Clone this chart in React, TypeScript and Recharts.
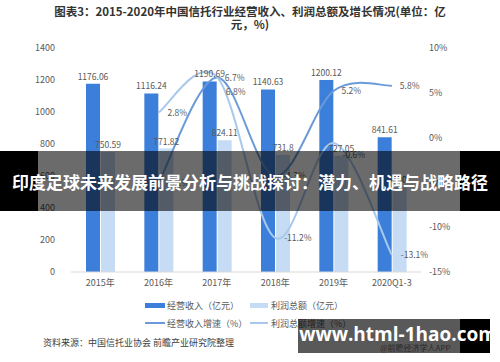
import React from 'react';
import { ComposedChart, Bar, Line, XAxis, YAxis, LabelList } from 'recharts';

const categories = ['2015年', '2016年', '2017年', '2018年', '2019年', '2020Q1-3'];
const revenue = [1176.06, 1116.24, 1190.69, 1140.63, 1200.12, 841.61];
const profit = [750.59, 771.82, 824.11, 731.8, 727.05, 530];
const revenueGrowth: (number | null)[] = [null, -5.1, 6.7, -4.3, 5.2, 5.8];
const profitGrowth: (number | null)[] = [null, 2.8, 6.8, -11.2, -0.6, -13.1];
const leftTicks = [0, 200, 400, 600, 800, 1000, 1200, 1400];
const rightTicks = [-15, -10, -5, 0, 5, 10];

const titleLine1 = '图表3：2015-2020年中国信托行业经营收入、利润总额及增长情况(单位：亿';
const titleLine2 = '元，%)';
const seriesNames = ['经营收入（亿元）', '利润总额（亿元）', '经营收入增速（%）', '利润总额增速（%）'];
const sourceText = '资料来源：中国信托业协会 前瞻产业研究院整理';
const bannerText = '印度足球未来发展前景分析与挑战探讨：潜力、机遇与战略路径';
const watermarkText = 'www.html-1hao.com';
const watermarkSub = '@前瞻经济学人APP';

const data = categories.map((c, i) => ({
  name: c,
  revenue: revenue[i],
  profit: profit[i],
  revenueGrowth: revenueGrowth[i],
  profitGrowth: profitGrowth[i],
}));

const FONT = '"Noto Sans CJK SC", "Noto Sans", sans-serif';
const C_DARK = '#3c7fdb';
const C_LIGHT = '#c6dcf4';
const C_LINE1 = '#6a9bd8';
const C_LINE2 = '#a9c9ec';
const C_TEXT = '#595959';

// label style offsets (per category index)
const profitLabelDy = [0, 0, 15, 0, 12, 0];
const revenueLabelDy = [0, 0, 0, 0, 0, 0];

function smoothCurve(context: any) {
  let pts: number[][] = [];
  return {
    areaStart() {},
    areaEnd() {},
    lineStart() {
      pts = [];
    },
    point(x: number, y: number) {
      pts.push([+x, +y]);
    },
    lineEnd() {
      const n = pts.length;
      if (!n) return;
      context.moveTo(pts[0][0], pts[0][1]);
      if (n === 1) return;
      const t = 1 / 6;
      for (let i = 0; i < n - 1; i++) {
        const p0 = pts[i - 1] || pts[i];
        const p1 = pts[i];
        const p2 = pts[i + 1];
        const p3 = pts[i + 2] || p2;
        context.bezierCurveTo(
          p1[0] + (p2[0] - p0[0]) * t,
          p1[1] + (p2[1] - p0[1]) * t,
          p2[0] - (p3[0] - p1[0]) * t,
          p2[1] - (p3[1] - p1[1]) * t,
          p2[0],
          p2[1]
        );
      }
    },
  };
}

const makeGrowthLabel = (dyArr: number[], dx: number) => (props: any) => {
  const { x, y, value, index } = props;
  if (value === null || value === undefined) return null;
  return (
    <text
      x={Number(x) + dx}
      y={Number(y) + (dyArr[index] || 0)}
      dy={3}
      fontSize={8.5}
      fill={C_TEXT}
      fontFamily={FONT}
    >
      {Number(value).toFixed(1)}%
    </text>
  );
};

const RevenueLabel = makeGrowthLabel(revenueLabelDy, 8);
const ProfitLabel = makeGrowthLabel(profitLabelDy, 9);

export default function App() {
  return (
    <div
      style={{
        position: 'absolute',
        left: 0,
        top: 0,
        width: 500,
        height: 362,
        background: '#fff',
        fontFamily: FONT,
        overflow: 'hidden',
      }}
    >
      <div
        style={{
          position: 'absolute',
          left: 0,
          top: 5,
          width: 500,
          textAlign: 'center',
          fontSize: 11.5,
          fontWeight: 700,
          color: '#333',
          lineHeight: '13px',
        }}
      >
        <div>{titleLine1}</div>
        <div>{titleLine2}</div>
      </div>

      <div style={{ position: 'absolute', left: 0, top: 0 }}>
        <ComposedChart
          width={500}
          height={362}
          data={data}
          margin={{ top: 48, right: 0, left: 0, bottom: 0 }}
          barSize={14}
          barGap={1}
        >
          <XAxis
            dataKey="name"
            height={90}
            axisLine={{ stroke: '#d9d9d9' }}
            tickLine={false}
            tick={{ fontSize: 9, fill: C_TEXT, fontFamily: FONT }}
            interval={0}
          />
          <YAxis
            yAxisId="left"
            width={71}
            domain={[0, 1400]}
            ticks={leftTicks}
            axisLine={false}
            tickLine={false}
            tickMargin={10}
            tick={{ fontSize: 9, fill: C_TEXT, fontFamily: FONT }}
          />
          <YAxis
            yAxisId="right"
            orientation="right"
            width={79}
            domain={[-15, 10]}
            ticks={rightTicks}
            axisLine={false}
            tickLine={false}
            tickMargin={2}
            tickFormatter={(v: number) => `${v}%`}
            tick={{ fontSize: 9, fill: C_TEXT, fontFamily: FONT }}
          />
          <Bar yAxisId="left" dataKey="revenue" fill={C_DARK} isAnimationActive={false}>
            <LabelList dataKey="revenue" position="top" offset={4} fontSize={8.5} fill={C_TEXT} fontFamily={FONT} />
          </Bar>
          <Bar yAxisId="left" dataKey="profit" fill={C_LIGHT} isAnimationActive={false}>
            <LabelList dataKey="profit" position="top" offset={4} fontSize={8.5} fill={C_TEXT} fontFamily={FONT} />
          </Bar>
          <Line
            yAxisId="right"
            dataKey="revenueGrowth"
            type={smoothCurve as any}
            stroke={C_LINE1}
            strokeWidth={2}
            dot={false}
            isAnimationActive={false}
          >
            <LabelList dataKey="revenueGrowth" content={RevenueLabel} />
          </Line>
          <Line
            yAxisId="right"
            dataKey="profitGrowth"
            type={smoothCurve as any}
            stroke={C_LINE2}
            strokeWidth={2}
            dot={false}
            isAnimationActive={false}
          >
            <LabelList dataKey="profitGrowth" content={ProfitLabel} />
          </Line>
        </ComposedChart>
      </div>

      {/* legend */}
      <div style={{ position: 'absolute', left: 145, top: 298, fontSize: 9, color: C_TEXT, lineHeight: '13px' }}>
        <div style={{ display: 'flex', alignItems: 'center', height: 14 }}>
          <span style={{ display: 'inline-block', width: 20, height: 5, background: C_DARK, marginRight: 2 }} />
          <span style={{ width: 83 }}>{seriesNames[0]}</span>
          <span style={{ display: 'inline-block', width: 18, height: 5, background: C_LIGHT, marginRight: 3 }} />
          <span>{seriesNames[1]}</span>
        </div>
        <div style={{ display: 'flex', alignItems: 'center', height: 14, marginTop: 4 }}>
          <span style={{ display: 'inline-block', width: 20, height: 2, background: C_LINE1, marginRight: 2 }} />
          <span style={{ width: 83 }}>{seriesNames[2]}</span>
          <span style={{ display: 'inline-block', width: 18, height: 2, background: C_LINE2, marginRight: 3 }} />
          <span>{seriesNames[3]}</span>
        </div>
      </div>

      {/* source */}
      <div style={{ position: 'absolute', left: 43, top: 336, fontSize: 9, color: '#404040', whiteSpace: 'nowrap' }}>
        {sourceText}
      </div>

      {/* overlay banner */}
      <div style={{ position: 'absolute', left: 0, top: 151, width: 500, height: 60, background: 'rgba(0,0,0,0.58)' }} />
      <div style={{ position: 'absolute', left: 0, top: 151, width: 38, height: 60, background: '#000' }} />
      <div style={{ position: 'absolute', left: 460, top: 151, width: 40, height: 60, background: '#000' }} />
      <div
        style={{
          position: 'absolute',
          left: 0,
          top: 151,
          width: 500,
          height: 60,
          display: 'flex',
          alignItems: 'center',
          justifyContent: 'center',
          color: '#fff',
          fontSize: 17,
          fontWeight: 700,
          whiteSpace: 'nowrap',
        }}
      >
        {bannerText}
      </div>

      {/* watermark box */}
      <div style={{ position: 'absolute', left: 380, top: 342, fontSize: 8, color: '#777', whiteSpace: 'nowrap' }}>
        {watermarkSub}
      </div>
      <div style={{ position: 'absolute', left: 298, top: 319, width: 162, height: 34, background: 'rgba(0,0,0,0.65)' }} />
      <div style={{ position: 'absolute', left: 460, top: 319, width: 30, height: 34, background: '#000' }} />
      <div
        style={{
          position: 'absolute',
          left: 302,
          top: 319,
          width: 192,
          height: 34,
          display: 'flex',
          alignItems: 'center',
          justifyContent: 'center',
          color: '#fff',
          fontSize: 19,
          fontWeight: 700,
          fontFamily: '"Open Sans", "DejaVu Sans", sans-serif',
          whiteSpace: 'nowrap',
          paddingBottom: 4,
          boxSizing: 'border-box',
        }}
      >
        {watermarkText}
      </div>
    </div>
  );
}
